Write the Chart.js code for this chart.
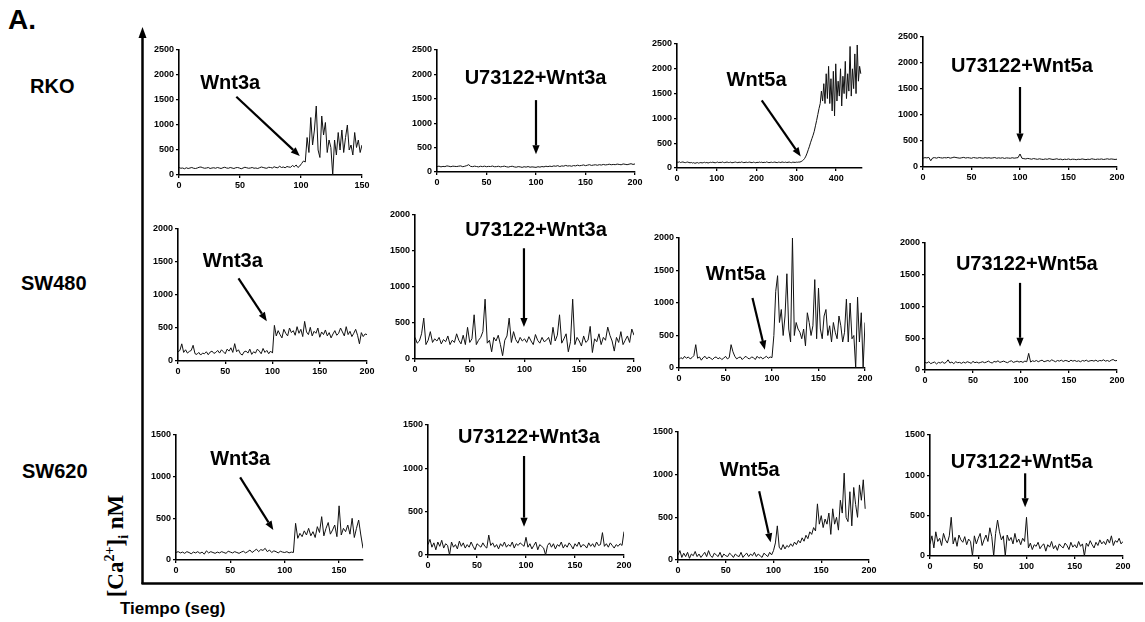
<!DOCTYPE html>
<html><head><meta charset="utf-8">
<script src="https://cdn.jsdelivr.net/npm/chart.js@4.4.0/dist/chart.umd.min.js"></script>
<style>
html,body{margin:0;padding:0;background:#fff;}
#fig{position:relative;width:1145px;height:622px;overflow:hidden;font-family:"Liberation Sans",Arial,sans-serif;background:#fff;}
.pan{position:absolute;}
.lbl{position:absolute;font-weight:bold;color:#000;white-space:nowrap;line-height:1;}
#ylab{position:absolute;left:117px;top:546px;transform:translate(-50%,-50%) rotate(-90deg);font-family:"Liberation Serif","Times New Roman",serif;font-weight:bold;font-size:23px;white-space:nowrap;line-height:1;}
#ylab sup,#ylab sub{font-size:14px;}
</style></head><body><div id="fig">
<div class="lbl" style="left:8px;top:6px;font-size:28px;">A.</div>
<div class="lbl" style="left:30px;top:76px;font-size:20px;">RKO</div>
<div class="lbl" style="left:21px;top:273px;font-size:20px;">SW480</div>
<div class="lbl" style="left:22px;top:461px;font-size:20px;">SW620</div>
<div id="ylab">[Ca<sup>2+</sup>]<sub>i</sub> nM</div>
<div class="lbl" style="left:120px;top:600px;font-size:17px;">Tiempo (seg)</div>
<svg width="1145" height="622" style="position:absolute;left:0;top:0;pointer-events:none">
  <line x1="142.5" y1="36" x2="142.5" y2="584" stroke="#000" stroke-width="2.5"/>
  <polygon points="142.5,27 138.5,38 146.5,38" fill="#000"/>
  <line x1="141.5" y1="583.5" x2="1143" y2="583.5" stroke="#000" stroke-width="2.5"/>
</svg>
</div>
<script>
// ---------- categories / labels ----------
const cellLines = ['RKO', 'SW480', 'SW620'];
const treatments = ['Wnt3a', 'U73122+Wnt3a', 'Wnt5a', 'U73122+Wnt5a'];

// ---------- axes ----------
const xMax  = [150, 200, 465, 200,  200, 200, 200, 200,  172, 200, 200, 200];
const xStep = [50, 50, 100, 50,  50, 50, 50, 50,  50, 50, 50, 50];
const yMax  = [2500, 2500, 2500, 2500,  2000, 2000, 2000, 2000,  1500, 1500, 1500, 1500];
const yStep = 500;
// sampling interval (s) of each trace
const sampleDt = [1.5, 2, 3, 2,  2, 2, 2, 2,  2, 2, 2, 2];

// ---------- series values ([Ca2+]i nM) ----------
const rkoWnt3a = [
150,135,140,125,145,130,140,150,135,130,
140,155,160,145,135,140,150,130,140,145,
135,150,140,130,145,155,140,135,150,140,
130,145,150,140,125,140,155,145,135,140,
150,135,140,130,145,160,150,140,135,155,
150,140,165,150,145,175,150,160,145,170,
160,155,190,165,200,150,180,
230,280,260,750,450,1150,600,900,1380,500,350,1180,800,1050,450,700,550,0,700,400,
850,500,900,450,750,1000,500,600,400,850,550,700,450,600];
const rkoU73Wnt3a = [
110,120,105,115,110,125,118,108,120,115,
112,120,125,108,118,130,150,115,110,120,
112,105,118,110,120,108,115,112,122,108,
110,118,105,112,120,108,100,112,118,105,
98,110,105,95,108,100,112,98,105,100,
95,108,100,112,105,118,110,120,112,125,
118,130,112,125,120,135,122,128,118,132,
125,140,128,135,145,130,140,150,135,142,
148,138,150,142,155,145,150,160,148,155,
150,162,155,148,165,158,150,160,170,155,165];
const rkoWnt5a = [
120,115,125,110,118,122,112,108,115,120,
110,105,112,100,108,95,102,110,98,105,
110,102,108,115,105,112,100,108,115,110,
118,110,105,112,120,108,115,110,122,112,
108,115,120,110,112,118,105,110,115,120,
112,108,118,110,122,115,108,112,118,110,
115,120,110,108,118,112,105,115,110,120,
112,118,108,115,110,122,115,108,112,118,
110,115,120,112,108,118,115,110,122,115,
112,118,110,115,120,112,108,118,115,112,
118,115,120,
120,130,145,165,195,240,300,370,440,520,
590,660,740,850,960,1080,1200,1300,1550,1350,
1700,1300,1900,1400,2050,1300,1800,1150,1950,1050,
2100,1350,1750,1450,2000,1250,1850,1500,2150,1400,
1900,1550,2450,1450,2000,1600,2300,1500,2480,1750,
2050,1900];
const rkoU73Wnt5a = [
170,180,175,185,120,175,180,170,185,178,
172,180,175,185,170,178,190,182,175,170,
178,185,172,180,175,168,182,176,170,180,
175,168,180,172,178,170,175,182,168,176,
170,178,165,175,172,168,178,170,175,180,
250,168,160,155,165,158,150,162,155,148,
158,150,145,155,148,160,152,145,150,158,
145,152,140,150,145,155,142,150,148,140,
150,145,155,148,142,150,145,158,150,145,
152,148,155,145,150,158,148,155,150,145,150];
const sw480Wnt3a = [
140,160,260,130,170,120,145,160,238,110,
100,130,90,120,110,140,95,135,150,115,
130,160,120,170,140,110,180,150,200,130,
263,140,170,110,90,140,150,120,180,100,
140,120,180,150,110,190,130,160,110,150,
120,
540,380,460,400,350,480,420,380,500,430,
460,390,520,420,480,370,600,440,400,510,
380,450,420,500,360,440,400,470,380,430,
350,410,460,390,420,500,440,380,520,400,
450,370,420,480,390,260,430,370,410,400];
const sw480U73Wnt3a = [
300,220,250,350,568,200,260,380,230,280,
250,300,210,270,240,320,200,260,230,350,
260,210,330,200,440,230,280,614,200,260,
300,380,831,220,260,100,300,250,330,200,
46,260,320,568,230,380,270,220,300,250,
280,230,310,250,200,340,260,220,300,240,
260,300,200,440,250,330,614,220,280,350,
100,240,831,200,300,250,180,320,230,260,
453,90,280,240,350,200,300,260,443,330,
250,110,300,230,380,200,260,320,230,416,330];
const sw480Wnt5a = [
130,160,140,180,150,170,140,160,190,359,
150,170,120,160,180,140,170,150,130,160,
170,140,160,130,150,180,140,160,359,250,
180,140,160,170,130,160,180,150,140,170,
160,130,180,150,170,140,160,180,150,170,
160,
500,1180,1420,700,900,500,800,1450,600,400,
2000,500,700,600,550,450,600,340,850,700,
500,650,1360,450,1230,600,450,800,900,500,
650,400,700,550,450,800,650,400,550,1060,
400,1000,450,500,0,1090,400,850,0,700];
const sw480U73Wnt5a = [
120,110,130,100,115,125,95,120,110,130,
105,120,160,110,125,100,130,115,120,105,
125,110,130,120,105,135,115,125,110,120,
130,115,125,140,120,110,135,125,145,120,
130,140,125,115,135,145,120,130,140,125,
135,120,140,130,262,125,145,135,150,130,
145,155,130,140,150,135,160,145,130,150,
140,155,135,150,145,130,155,140,150,135,
145,130,150,140,155,135,145,150,140,155,
135,150,145,160,140,150,135,155,165,145,150];
const sw620Wnt3a = [
90,100,85,95,80,100,90,75,95,85,
100,80,95,70,110,85,100,90,80,95,
85,100,90,80,105,95,85,100,90,80,
95,105,85,100,120,90,110,130,100,125,
115,140,100,120,90,110,100,85,105,95,
90,100,85,95,90,
440,260,320,280,350,300,380,290,340,270,
400,330,520,290,380,450,310,360,420,280,
650,300,380,340,420,310,500,270,380,480,
300,140];
const sw620U73Wnt3a = [
120,180,90,140,60,150,100,170,80,130,
110,0,150,90,120,70,160,100,140,80,
120,90,150,100,60,130,110,90,140,100,
80,230,110,140,90,120,70,130,100,150,
90,120,100,150,80,130,110,140,120,100,
204,90,130,70,110,150,60,120,100,80,
0,110,140,90,130,70,120,100,150,80,
120,90,140,110,70,130,100,150,90,120,
110,80,140,100,130,90,150,110,120,258,
100,130,90,140,110,80,120,100,130,110,270];
const sw620Wnt5a = [
60,110,30,80,40,90,20,70,50,100,
40,70,30,60,90,40,110,50,30,80,
60,40,90,30,70,50,40,80,60,30,
70,50,40,90,30,60,80,40,70,50,
90,40,70,50,30,80,60,40,90,60,
110,
200,400,150,120,180,130,170,150,190,160,
210,180,230,200,260,220,290,250,330,300,
380,340,658,420,520,380,480,420,550,300,
600,420,500,350,700,550,1018,500,450,800,
400,850,650,500,880,700,940,600];
const sw620U73Wnt5a = [
150,250,100,300,180,220,130,280,200,160,
250,480,150,230,120,260,200,170,240,140,
210,180,0,250,150,220,280,130,200,260,
180,350,240,0,280,446,300,200,250,0,
260,190,230,150,280,170,210,140,220,180,
480,
100,160,80,140,120,170,90,130,150,60,
140,110,180,90,130,70,150,120,100,160,
130,80,170,110,140,100,180,120,150,0,
160,120,190,140,100,170,130,200,150,180,
140,210,160,250,130,190,170,220,150,180];

const series = [rkoWnt3a, rkoU73Wnt3a, rkoWnt5a, rkoU73Wnt5a,
                sw480Wnt3a, sw480U73Wnt3a, sw480Wnt5a, sw480U73Wnt5a,
                sw620Wnt3a, sw620U73Wnt3a, sw620Wnt5a, sw620U73Wnt5a];

// ---------- annotations (data coordinates: seconds, nM) ----------
const labelAt   = [[42,1840],[99.5,1925],[200,1766],[102,1937],
                   [58,1503],[110.5,1782],[61,1446],[106,1665],
                   [59,1208],[103,1358],[75,1050],[95,1157]];
const arrowFrom = [[47,1566],[100,1473],[213,1363],[100,1538],
                   [64,1251],[99.5,1538],[79,1077],[99,1372],
                   [59,992],[98,1142],[85,806],[98.6,1025]];
const arrowTo   = [[99,380],[100,364],[311,234],[100,469],
                   [94,603],[99.5,443],[92.3,282],[99,366],
                   [89.5,360],[98,327],[97,207],[98.6,604]];

// ---------- layout (page pixels of plot area: left, right, top, bottom) ----------
const plotBox = [
  [179.3, 362.3, 50, 175], [437.3, 635, 50, 171.7], [677.3, 861.8, 44.3, 168.3], [922.7, 1116.7, 36.7, 166.7],
  [177.7, 366.7, 229, 360.7], [415, 634, 215, 359.3], [679.3, 865, 238.3, 368.3], [925, 1116.7, 242.7, 370],
  [176, 362.9, 435, 560], [428.3, 624, 425, 555], [678.3, 869, 431.7, 559.3], [930, 1122.7, 435, 556]
];

Chart.defaults.font.family = '"Liberation Sans", Arial, sans-serif';
Chart.defaults.color = '#000';

const annotPlugin = {
  id: 'annot',
  afterDatasetsDraw(chart, args, o) {
    const {ctx} = chart; const sx = chart.scales.x, sy = chart.scales.y;
    ctx.save();
    ctx.fillStyle = '#000'; ctx.strokeStyle = '#000';
    ctx.font = 'bold 20px "Liberation Sans", Arial, sans-serif';
    ctx.textAlign = 'center'; ctx.textBaseline = 'middle';
    ctx.fillText(o.text, sx.getPixelForValue(o.lab[0]), sy.getPixelForValue(o.lab[1]));
    const x1 = sx.getPixelForValue(o.from[0]), y1 = sy.getPixelForValue(o.from[1]);
    const x2 = sx.getPixelForValue(o.to[0]), y2 = sy.getPixelForValue(o.to[1]);
    const a = Math.atan2(y2 - y1, x2 - x1), L = 9, W = 3.6;
    const bx = x2 - L * Math.cos(a), by = y2 - L * Math.sin(a);
    ctx.lineWidth = 2.2;
    ctx.beginPath(); ctx.moveTo(x1, y1); ctx.lineTo(bx, by); ctx.stroke();
    ctx.beginPath(); ctx.moveTo(x2, y2);
    ctx.lineTo(bx + W * Math.sin(a), by - W * Math.cos(a));
    ctx.lineTo(bx - W * Math.sin(a), by + W * Math.cos(a));
    ctx.closePath(); ctx.fill();
    ctx.restore();
  }
};

const YW = 40, XH = 20, PT = 8, PR = 16;
const fig = document.getElementById('fig');
series.forEach((vals, i) => {
  const [l, r, t, b] = plotBox[i];
  const w = Math.round(r - l + YW + PR), h = Math.round(b - t + PT + XH);
  const div = document.createElement('div');
  div.className = 'pan';
  div.style.left = (l - YW) + 'px'; div.style.top = (t - PT) + 'px';
  div.style.width = w + 'px'; div.style.height = h + 'px';
  const cv = document.createElement('canvas');
  cv.width = w; cv.height = h; cv.style.width = w + 'px'; cv.style.height = h + 'px';
  div.appendChild(cv); fig.insertBefore(div, fig.querySelector('svg'));
  const pts = vals.map((v, k) => ({x: +(k * sampleDt[i]).toFixed(2), y: v}));
  const tickFont = {size: 9, weight: 'bold'};
  const plain = v => String(v);
  new Chart(cv, {
    type: 'line',
    data: {datasets: [{label: cellLines[Math.floor(i / 4)] + ' ' + treatments[i % 4], data: pts,
      borderColor: '#111', borderWidth: 1, pointRadius: 0, tension: 0, fill: false}]},
    options: {
      responsive: false, devicePixelRatio: 1, animation: false, parsing: true,
      layout: {padding: {top: PT, right: PR, left: 0, bottom: 0}},
      plugins: {legend: {display: false}, tooltip: {enabled: false},
        annot: {text: treatments[i % 4], lab: labelAt[i], from: arrowFrom[i], to: arrowTo[i]}},
      scales: {
        x: {type: 'linear', min: 0, max: xMax[i],
          ticks: {stepSize: xStep[i], includeBounds: false, autoSkip: false, maxRotation: 0, font: tickFont, color: '#000', padding: 2, callback: plain},
          grid: {drawOnChartArea: false, drawTicks: true, tickLength: 3, color: '#000', lineWidth: 1.3},
          border: {display: true, color: '#000', width: 1.6},
          afterFit: s => { s.height = XH; }},
        y: {type: 'linear', min: 0, max: yMax[i],
          ticks: {stepSize: yStep, font: tickFont, color: '#000', padding: 2, callback: plain},
          grid: {drawOnChartArea: false, drawTicks: true, tickLength: 3, color: '#000', lineWidth: 1.3},
          border: {display: true, color: '#000', width: 1.6},
          afterFit: s => { s.width = YW; }}
      }
    },
    plugins: [annotPlugin]
  });
});
</script>
</body></html>
